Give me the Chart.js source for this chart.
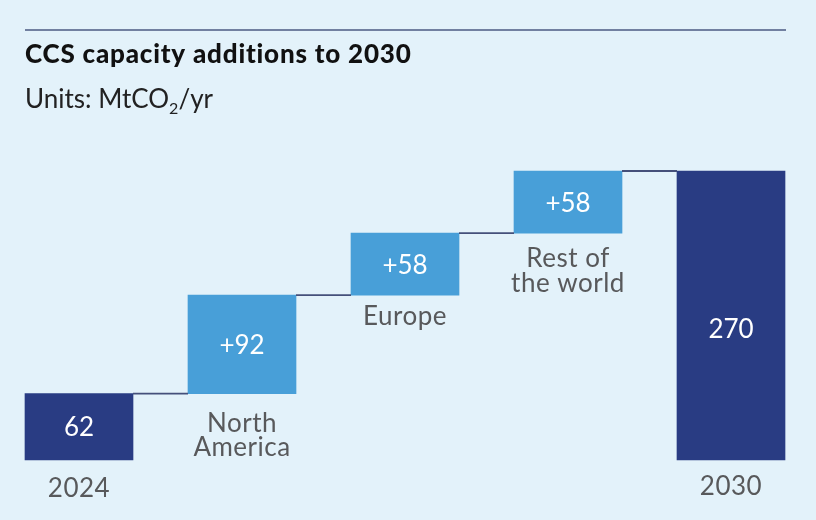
<!DOCTYPE html>
<html>
<head>
<meta charset="utf-8">
<script src="https://cdn.jsdelivr.net/npm/chart.js@4"></script>
<style>
  html, body { margin: 0; padding: 0; background: #e3f2fa; }
  #wrap { width: 816px; height: 520px; }
</style>
</head>
<body>
<div id="wrap"><canvas id="ccsChart" width="816" height="520"></canvas></div>
<script>
const categories = ["2024", ["North", "America"], "Europe", ["Rest of", "the world"], "2030"];
const startValue = 62;
const additions = [92, 58, 58];
const endValue = 270;
const valueLabels = ["62", "+92", "+58", "+58", "270"];

const navy = "#293c83";
const lightBlue = "#489fd8";
const labelGrey = "#58595b";

// floating ranges for the waterfall
const ranges = [[0, startValue]];
let running = startValue;
additions.forEach(a => {
  ranges.push([running, running + a]);
  running += a;
});
ranges.push([0, endValue]);
const barColors = ranges.map((r, i) => (i === 0 || i === ranges.length - 1) ? navy : lightBlue);

const font = "Lato, 'Noto Sans', sans-serif";
// label placement tweaks (baseline distance under each bar, value label height in bar)
const nameOffset = [37, 38, 30, 34, 35];
const valueSpot = [0.5, 0.5, 0.5, 0.5, 0.545];

const waterfallPlugin = {
  id: "waterfall",
  beforeDraw(chart) {
    const ctx = chart.ctx;
    ctx.save();
    ctx.fillStyle = "#e3f2fa";
    ctx.fillRect(0, 0, chart.width, chart.height);

    // top rule
    ctx.strokeStyle = "#4b5a82";
    ctx.lineWidth = 1.5;
    ctx.beginPath();
    ctx.moveTo(25, 30);
    ctx.lineTo(786, 30);
    ctx.stroke();

    // title + units
    ctx.fillStyle = "#111111";
    ctx.textBaseline = "alphabetic";
    ctx.textAlign = "left";
    ctx.font = "900 26px " + font;
    ctx.letterSpacing = "0.8px";
    ctx.fillText("CCS capacity additions to 2030", 25, 63);
    ctx.letterSpacing = "0px";

    ctx.fillStyle = "#222222";
    ctx.font = "26px " + font;
    let x = 25;
    ctx.fillText("Units: MtCO", x, 108);
    x += ctx.measureText("Units: MtCO").width;
    ctx.font = "16px " + font;
    ctx.fillText("2", x, 114);
    x += ctx.measureText("2").width;
    ctx.font = "26px " + font;
    ctx.fillText("/yr", x, 108);
    ctx.restore();
  },
  afterDatasetsDraw(chart) {
    const ctx = chart.ctx;
    const bars = chart.getDatasetMeta(0).data;
    ctx.save();

    // connectors between bars
    ctx.strokeStyle = "#45507a";
    ctx.lineWidth = 1.8;
    for (let i = 0; i < bars.length - 1; i++) {
      const b = bars[i], n = bars[i + 1];
      const y = Math.min(b.y, b.base);
      ctx.beginPath();
      ctx.moveTo(b.x + b.width / 2, y);
      ctx.lineTo(n.x - n.width / 2, y);
      ctx.stroke();
    }

    bars.forEach((b, i) => {
      const top = Math.min(b.y, b.base);
      const bottom = Math.max(b.y, b.base);

      // value inside the bar
      ctx.fillStyle = "#ffffff";
      ctx.font = "26px " + font;
      ctx.letterSpacing = "0px";
      ctx.textAlign = "center";
      ctx.textBaseline = "alphabetic";
      ctx.fillText(valueLabels[i], b.x, top + (bottom - top) * valueSpot[i] + 9.5);

      // category name under the bar
      const lines = [].concat(categories[i]);
      ctx.fillStyle = labelGrey;
      ctx.font = "26px " + font;
      ctx.letterSpacing = "0.5px";
      lines.forEach((line, k) => {
        ctx.fillText(line, b.x, bottom + nameOffset[i] + k * 24.5);
      });
    });
    ctx.restore();
  }
};

new Chart(document.getElementById("ccsChart"), {
  type: "bar",
  data: {
    labels: categories,
    datasets: [{
      data: ranges,
      backgroundColor: barColors,
      borderWidth: 0,
      borderSkipped: false,
      barThickness: 108,
      clip: false
    }]
  },
  options: {
    responsive: false,
    animation: false,
    layout: { padding: { left: 79, right: 85, top: 171, bottom: 60 } },
    plugins: {
      legend: { display: false },
      tooltip: { enabled: false },
      title: { display: false }
    },
    scales: {
      x: { display: false, offset: false },
      y: { display: false, min: 0, max: 270 }
    }
  },
  plugins: [waterfallPlugin]
});
</script>
</body>
</html>
